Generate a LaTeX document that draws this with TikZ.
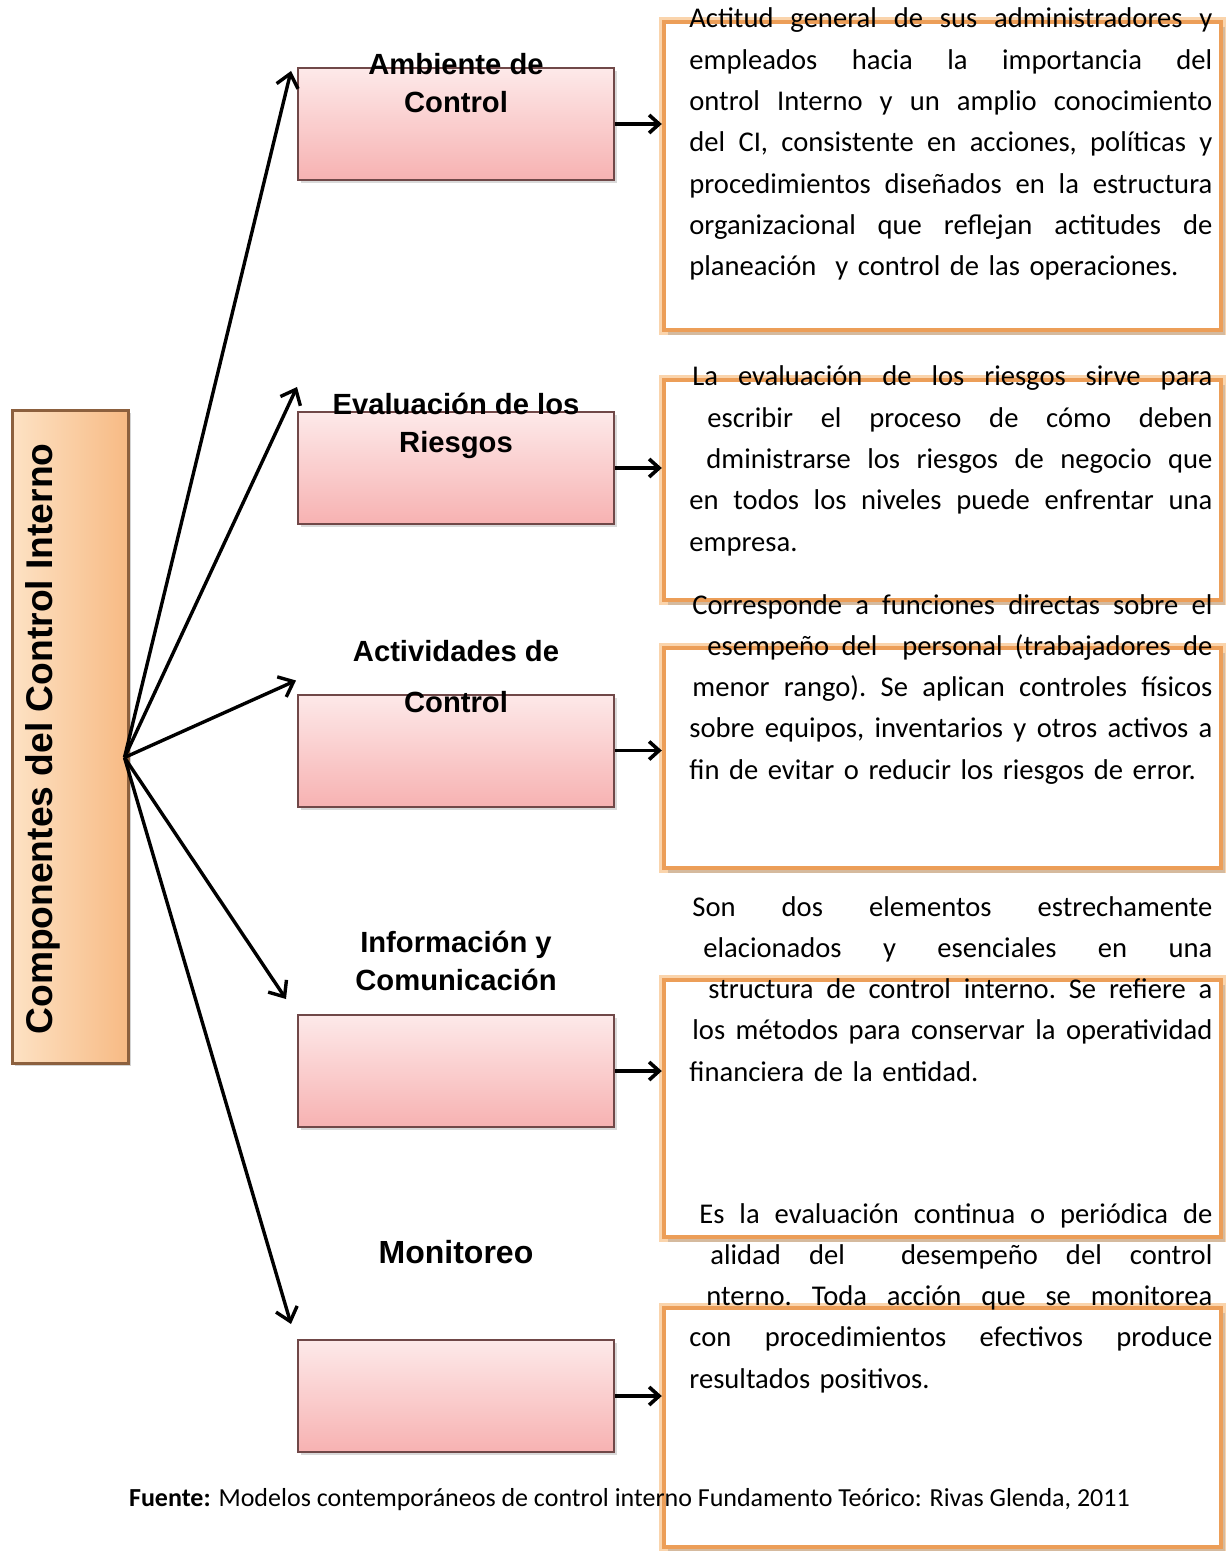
\documentclass[tikz,border=0pt]{standalone}
\usepackage{fontspec}
\setmainfont{Carlito}
\newfontfamily\arialfont{Liberation Sans}
\usepackage{xcolor}
\usepackage{tikz}
\usetikzlibrary{arrows.meta,shadows,calc}
\definecolor{peachlight}{RGB}{253,226,196}
\definecolor{peach}{RGB}{247,186,132}
\definecolor{peachdark}{RGB}{140,96,62}
\definecolor{pinktop}{RGB}{253,233,233}
\definecolor{pinkbot}{RGB}{247,178,178}
\definecolor{pinkedge}{RGB}{112,72,72}
\definecolor{frameorange}{RGB}{236,158,88}
\definecolor{framelight}{RGB}{250,212,172}

% one justified line of a description
\newlength{\desclen}\setlength{\desclen}{261.5pt}
\newcommand{\jl}[1]{\leavevmode\hbox to\desclen{\spaceskip=.23em plus 1fil\xspaceskip=\spaceskip\relax #1}\\}

\begin{document}
\begin{tikzpicture}[x=0.5pt, y=-0.5pt,
  compbox/.style={rectangle, draw=peachdark, line width=1.5pt,
    left color=peachlight, right color=peach,
    minimum width=58pt, minimum height=326.5pt, inner sep=0pt,
    drop shadow={shadow xshift=1.5pt, shadow yshift=-1.5pt, opacity=.35}},
  comptext/.style={rotate=90, font=\arialfont\bfseries\fontsize{18.6}{22}\selectfont},
  pinkbox/.style={rectangle, draw=pinkedge, line width=1pt,
    top color=pinktop, bottom color=pinkbot,
    minimum width=158pt, minimum height=56pt, inner sep=0pt,
    drop shadow={shadow xshift=1.5pt, shadow yshift=-1.5pt, opacity=.3}},
  title/.style={align=center, font=\arialfont\bfseries\fontsize{14.6}{19}\selectfont},
  descframe/.style={rectangle, draw=frameorange, line width=2.2pt, fill=white,
    preaction={draw=framelight, line width=5pt},
    minimum width=278.5pt, inner sep=0pt,
    drop shadow={shadow xshift=2pt, shadow yshift=-2.5pt, opacity=.3}},
  desc/.style={anchor=base west, text width=261.5pt, align=left, inner sep=0pt,
    font=\fontsize{14.3}{20.65}\selectfont\frenchspacing},
  arr/.style={-{Straight Barb[length=6.5pt,width=11pt]}, line width=1.7pt, black},
  shortarr/.style={-{Straight Barb[length=5pt,width=9pt]}, line width=1.8pt, black}]

  \useasboundingbox (0,0) rectangle (1226,1551);

  % left column
  \node[compbox] (compbox) at (70,736.5) {};
  \node[comptext] (comp) at (43,739) {Componentes del Control Interno};
  \coordinate (hub) at ($(compbox.east)+(-5,21)$);

  % components
  \node[pinkbox] (b1) at (456,124) {};
  \node[pinkbox] (b2) at (456,468) {};
  \node[pinkbox] (b3) at (456,750.5) {};
  \node[pinkbox] (b4) at (456,1071) {};
  \node[pinkbox] (b5) at (456,1396) {};

  \node[title] (t1) at (456,83) {Ambiente de\\Control};
  \node[title] (t2) at (456,426) {Evaluación de los\\Riesgos};
  \node[title, font=\arialfont\bfseries\fontsize{14.6}{25.5}\selectfont] (t3) at (456,677) {Actividades de\\Control};
  \node[title] (t4) at (456,961) {Información y\\Comunicación};
  \node[title, font=\arialfont\bfseries\fontsize{16}{19}\selectfont] (t5) at (456,1252) {Monitoreo};

  % description frames
  \node[descframe, minimum height=154pt] (fA) at (942.5,176) {};
  \node[descframe, minimum height=110pt] (fB) at (942.5,490) {};
  \node[descframe, minimum height=110pt] (fC) at (942.5,758) {};
  \node[descframe, minimum height=128.5pt] (fD) at (942.5,1108.5) {};
  \node[descframe, minimum height=119.5pt] (fE) at (942.5,1427.5) {};

  % description texts
  \node[desc] (dA) at (689,28) {%
    \jl{Actitud general de sus administradores y}
    \jl{empleados hacia la importancia del}
    \jl{ontrol Interno y un amplio conocimiento}
    \jl{del CI, consistente en acciones, políticas y}
    \jl{procedimientos diseñados en la estructura}
    \jl{organizacional que reflejan actitudes de}
    planeación~ y control de las operaciones.};
  \node[desc] (dB) at (689,386) {%
    \jl{\hspace*{1.5pt}La evaluación de los riesgos sirve para}
    \jl{\hspace*{9pt}escribir el proceso de cómo deben}
    \jl{\hspace*{8.5pt}dministrarse los riesgos de negocio que}
    \jl{en todos los niveles puede enfrentar una}
    empresa.};
  \node[desc] (dC) at (689,614) {%
    \jl{\hspace*{1.5pt}Corresponde a funciones directas sobre el}
    \jl{\hspace*{9pt}esempeño del~ personal (trabajadores de}
    \jl{\hspace*{1.5pt}menor rango). Se aplican controles físicos}
    \jl{sobre equipos, inventarios y otros activos a}
    fin de evitar o reducir los riesgos de error.};
  \node[desc] (dD) at (689,916) {%
    \jl{\hspace*{1.5pt}Son dos elementos estrechamente}
    \jl{\hspace*{7pt}elacionados y esenciales en una}
    \jl{\hspace*{9.5pt}structura de control interno. Se refiere a}
    \jl{\hspace*{1.5pt}los métodos para conservar la operatividad}
    financiera de la entidad.};
  \node[desc] (dE) at (689,1223) {%
    \jl{\hspace*{5pt}Es la evaluación continua o periódica de}
    \jl{\hspace*{10.5pt}alidad del~ desempeño del control}
    \jl{\hspace*{8.5pt}nterno. Toda acción que se monitorea}
    \jl{con procedimientos efectivos produce}
    resultados positivos.};

  % fan of arrows
  \draw[arr] (hub) -- ($(b1.north west)+(-6,4)$);
  \draw[arr] (hub) -- ($(b2.north west)+(0,-24)$);
  \draw[arr] (hub) -- ($(b3.north west)+(-1,-13)$);
  \draw[arr] (hub) -- ($(b4.north west)+(-11,-15)$);
  \draw[arr] (hub) -- ($(b5.north west)+(-6,-15)$);

  % component to description
  \draw[shortarr] (b1.east) -- (b1.east -| fA.west);
  \draw[shortarr] (b2.east) -- (b2.east -| fB.west);
  \draw[shortarr] (b3.east) -- (b3.east -| fC.west);
  \draw[shortarr] (b4.east) -- (b4.east -| fD.west);
  \draw[shortarr] (b5.east) -- (b5.east -| fE.west);

  % source
  \node[font=\fontsize{13}{15}\selectfont] (src) at (629.5,1500)
    {\textbf{Fuente:} Modelos contemporáneos de control interno Fundamento Teórico: Rivas Glenda, 2011};
\end{tikzpicture}
\end{document}
